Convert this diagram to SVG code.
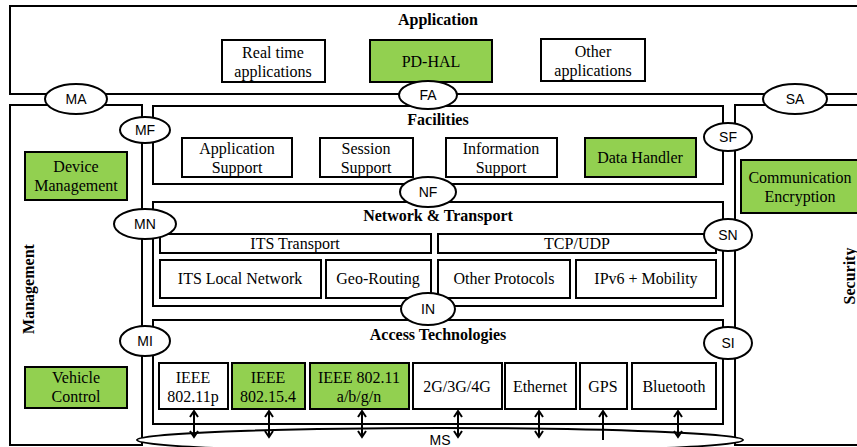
<svg xmlns="http://www.w3.org/2000/svg" width="857" height="447" viewBox="0 0 857 447">
<defs>
<style>
.ln{fill:none;stroke:#000;stroke-width:2}
.bx{fill:#fff;stroke:#000;stroke-width:2}
.gr{fill:#92D050;stroke:#000;stroke-width:2}
.el{fill:#fff;stroke:#000;stroke-width:2}
.t{font-family:"Liberation Serif","Times New Roman",serif;font-size:16px;text-anchor:middle;fill:#000}
.h{font-family:"Liberation Serif","Times New Roman",serif;font-size:16px;font-weight:bold;text-anchor:middle;fill:#000}
.s{font-family:"Liberation Sans",Arial,sans-serif;font-size:14px;text-anchor:middle;fill:#000}
.ar{fill:none;stroke:#000;stroke-width:2}
</style>
<marker id="ah" markerWidth="10" markerHeight="10" refX="8" refY="5" orient="auto-start-reverse" markerUnits="userSpaceOnUse" viewBox="0 0 10 10">
<path d="M2,1 L8,5 L2,9" fill="none" stroke="#000" stroke-width="2"/>
</marker>
</defs>
<rect width="857" height="447" fill="#fff"/>

<g id="application">
<path class="ln" d="M857,6 H10 V94 H857"/>
<text class="h" x="438" y="25">Application</text>
</g>
<g id="realtime"><rect class="bx" x="222" y="40" width="103" height="42"/><text class="t" x="273" y="58">Real time</text><text class="t" x="273" y="77">applications</text></g>
<g id="pdhal"><rect class="gr" x="370" y="40" width="122" height="42"/><text class="t" x="431" y="67">PD-HAL</text></g>
<g id="otherapps"><rect class="bx" x="541" y="39" width="104" height="42"/><text class="t" x="593" y="57">Other</text><text class="t" x="593" y="76">applications</text></g>

<g id="management">
<rect class="ln" x="10" y="105" width="132" height="340"/>
<text class="h" transform="translate(34,289) rotate(-90)">Management</text>
</g>
<g id="devicemgmt"><rect class="gr" x="25" y="152" width="102" height="48"/><text class="t" x="76" y="172">Device</text><text class="t" x="76" y="191">Management</text></g>
<g id="vehiclecontrol"><rect class="gr" x="25" y="367" width="102" height="41"/><text class="t" x="76" y="383">Vehicle</text><text class="t" x="76" y="402">Control</text></g>

<g id="security">
<path class="ln" d="M858,105 H735 V445 H858"/>
<text class="h" transform="translate(855,276) rotate(-90)">Security</text>
</g>
<g id="encryption"><rect class="gr" x="741" y="160" width="130" height="53"/><text class="t" x="800" y="183">Communication</text><text class="t" x="800" y="202">Encryption</text></g>

<g id="facilities">
<rect class="ln" x="153" y="106" width="570" height="78"/>
<text class="h" x="438" y="125">Facilities</text>
</g>
<g id="appsupport"><rect class="bx" x="182" y="138" width="110" height="39"/><text class="t" x="237" y="154">Application</text><text class="t" x="237" y="173">Support</text></g>
<g id="sessionsupport"><rect class="bx" x="320" y="138" width="93" height="39"/><text class="t" x="366" y="154">Session</text><text class="t" x="366" y="173">Support</text></g>
<g id="infosupport"><rect class="bx" x="446" y="138" width="111" height="39"/><text class="t" x="501" y="154">Information</text><text class="t" x="501" y="173">Support</text></g>
<g id="datahandler"><rect class="gr" x="585" y="138" width="111" height="39"/><text class="t" x="640" y="163">Data Handler</text></g>

<g id="network">
<rect class="ln" x="153" y="202" width="570" height="104"/>
<text class="h" x="438" y="221">Network &amp; Transport</text>
</g>
<g id="itstransport"><rect class="bx" x="160" y="234" width="271" height="19"/><text class="t" x="295" y="249">ITS Transport</text></g>
<g id="tcpudp"><rect class="bx" x="438" y="234" width="278" height="19"/><text class="t" x="577" y="249">TCP/UDP</text></g>
<g id="itslocal"><rect class="bx" x="160" y="260" width="161" height="38"/><text class="t" x="240" y="284">ITS Local Network</text></g>
<g id="georouting"><rect class="bx" x="326" y="260" width="105" height="38"/><text class="t" x="378" y="284">Geo-Routing</text></g>
<g id="otherprotocols"><rect class="bx" x="438" y="260" width="132" height="38"/><text class="t" x="504" y="284">Other Protocols</text></g>
<g id="ipv6"><rect class="bx" x="576" y="260" width="140" height="38"/><text class="t" x="646" y="284">IPv6 + Mobility</text></g>

<g id="access">
<rect class="ln" x="153" y="320" width="570" height="104"/>
<text class="h" x="438" y="340">Access Technologies</text>
</g>
<g id="ieee80211p"><rect class="bx" x="159" y="363" width="69" height="46"/><text class="t" x="193" y="383">IEEE</text><text class="t" x="193" y="402">802.11p</text></g>
<g id="ieee802154"><rect class="gr" x="232" y="363" width="73" height="46"/><text class="t" x="268" y="383">IEEE</text><text class="t" x="268" y="402">802.15.4</text></g>
<g id="ieee80211abgn"><rect class="gr" x="310" y="363" width="99" height="46"/><text class="t" x="359" y="383">IEEE 802.11</text><text class="t" x="359" y="402">a/b/g/n</text></g>
<g id="cellular"><rect class="bx" x="413" y="363" width="89" height="46"/><text class="t" x="457" y="392">2G/3G/4G</text></g>
<g id="ethernet"><rect class="bx" x="505" y="363" width="71" height="46"/><text class="t" x="540" y="392">Ethernet</text></g>
<g id="gps"><rect class="bx" x="580" y="363" width="47" height="46"/><text class="t" x="603" y="392">GPS</text></g>
<g id="bluetooth"><rect class="bx" x="632" y="363" width="84" height="46"/><text class="t" x="674" y="392">Bluetooth</text></g>

<g id="ms"><ellipse class="el" cx="440" cy="440" rx="303" ry="12"/><text class="s" x="440" y="445">MS</text></g>

<g id="connectors">
<line class="ar" x1="194" y1="411" x2="194" y2="437" marker-start="url(#ah)" marker-end="url(#ah)"/>
<line class="ar" x1="269" y1="411" x2="269" y2="437" marker-start="url(#ah)" marker-end="url(#ah)"/>
<line class="ar" x1="362" y1="411" x2="362" y2="437" marker-start="url(#ah)" marker-end="url(#ah)"/>
<line class="ar" x1="458" y1="411" x2="458" y2="437" marker-start="url(#ah)" marker-end="url(#ah)"/>
<line class="ar" x1="539" y1="411" x2="539" y2="437" marker-start="url(#ah)" marker-end="url(#ah)"/>
<line class="ar" x1="603" y1="411" x2="603" y2="440" marker-start="url(#ah)"/>
<line class="ar" x1="678" y1="411" x2="678" y2="437" marker-start="url(#ah)" marker-end="url(#ah)"/>
</g>

<g id="ma"><ellipse class="el" cx="76" cy="99" rx="31" ry="15"/><text class="s" x="76" y="104">MA</text></g>
<g id="fa"><ellipse class="el" cx="428" cy="95" rx="29" ry="14"/><text class="s" x="428" y="100">FA</text></g>
<g id="sa"><ellipse class="el" cx="795" cy="99" rx="32" ry="15"/><text class="s" x="795" y="104">SA</text></g>
<g id="mf"><ellipse class="el" cx="145" cy="130" rx="25" ry="13"/><text class="s" x="145" y="135">MF</text></g>
<g id="sf"><ellipse class="el" cx="728" cy="137" rx="24" ry="14"/><text class="s" x="728" y="142">SF</text></g>
<g id="nf"><ellipse class="el" cx="428" cy="192" rx="28" ry="15"/><text class="s" x="428" y="197">NF</text></g>
<g id="mn"><ellipse class="el" cx="145" cy="224" rx="31" ry="15"/><text class="s" x="145" y="229">MN</text></g>
<g id="sn"><ellipse class="el" cx="728" cy="235" rx="24" ry="16"/><text class="s" x="728" y="240">SN</text></g>
<g id="in"><ellipse class="el" cx="428" cy="309" rx="27" ry="16"/><text class="s" x="428" y="314">IN</text></g>
<g id="mi"><ellipse class="el" cx="145" cy="341" rx="25" ry="15"/><text class="s" x="145" y="346">MI</text></g>
<g id="si"><ellipse class="el" cx="728" cy="343" rx="24" ry="16"/><text class="s" x="728" y="348">SI</text></g>
</svg>
